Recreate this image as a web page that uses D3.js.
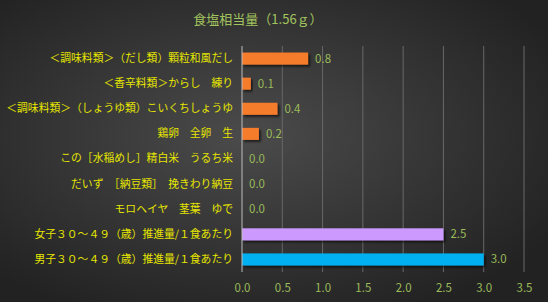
<!DOCTYPE html>
<html>
<head>
<meta charset="utf-8">
<script src="https://cdn.jsdelivr.net/npm/d3@7"></script>
<style>
  body { margin: 0; background: #2a2a2a; }
  svg { display: block; }
</style>
</head>
<body>
<svg></svg>
<script>
let categories = [
  '＜調味料類＞（だし類）顆粒和風だし',
  '＜香辛料類＞からし　練り',
  '＜調味料類＞（しょうゆ類）こいくちしょうゆ',
  '鶏卵　全卵　生',
  'この［水稲めし］精白米　うるち米',
  'だいず　［納豆類］　挽きわり納豆',
  'モロヘイヤ　茎葉　ゆで',
  '女子３０～４９（歳）推進量/１食あたり',
  '男子３０～４９（歳）推進量/１食あたり'
];
let values = [0.82, 0.11, 0.44, 0.21, 0, 0, 0, 2.5, 3.0];
let barColors = ['#f47b2c', '#f47b2c', '#f47b2c', '#f47b2c', '#f47b2c', '#f47b2c', '#f47b2c', '#cc99ff', '#00b0f0'];
let ticks = [0, 0.5, 1, 1.5, 2, 2.5, 3, 3.5];
let title = '食塩相当量（1.56ｇ）';

let width = 548;
let height = 302;
let font = '"Noto Sans CJK JP", "Noto Sans", sans-serif';

let svg = d3.select('svg')
    .attr('width', width)
    .attr('height', height);

let defs = svg.append('defs');
let bg = defs.append('radialGradient')
    .attr('id', 'bg')
    .attr('cx', '45%').attr('cy', '45%').attr('r', '65%');
bg.append('stop').attr('offset', '0%').attr('stop-color', '#4b4b4b');
bg.append('stop').attr('offset', '100%').attr('stop-color', '#222222');

let shadow = defs.append('filter').attr('id', 'shadow')
    .attr('x', '-10%').attr('y', '-30%').attr('width', '130%').attr('height', '180%');
shadow.append('feDropShadow')
    .attr('dx', 2).attr('dy', 2).attr('stdDeviation', 1.2)
    .attr('flood-color', '#000').attr('flood-opacity', 0.6);

svg.append('rect')
    .attr('width', width).attr('height', height)
    .attr('fill', 'url(#bg)');

let xScale = d3.scaleLinear()
               .domain([0, 3.5])
               .range([242, 524]);

let yScale = d3.scaleBand()
               .domain(categories)
               .range([46, 272])
               .paddingInner(0.52)
               .paddingOuter(0.26);

// grid
svg.append('g')
  .selectAll('line')
  .data(ticks.slice(1))
  .enter()
  .append('line')
    .attr('x1', d => xScale(d)).attr('x2', d => xScale(d))
    .attr('y1', 46).attr('y2', 272)
    .attr('stroke', '#686868')
    .attr('stroke-width', 1);

// bars
svg.append('g')
  .selectAll('rect')
  .data(values)
  .enter()
  .append('rect')
    .attr('x', xScale(0))
    .attr('y', (d, i) => yScale(categories[i]))
    .attr('width', d => xScale(d) - xScale(0))
    .attr('height', yScale.bandwidth())
    .attr('fill', (d, i) => barColors[i])
    .attr('filter', 'url(#shadow)');

// axis line
svg.append('line')
    .attr('x1', xScale(0)).attr('x2', xScale(0))
    .attr('y1', 46).attr('y2', 272)
    .attr('stroke', '#bdbdbd');

// value labels
svg.append('g')
  .selectAll('text')
  .data(values)
  .enter()
  .append('text')
    .attr('x', d => xScale(d) + 7)
    .attr('y', (d, i) => yScale(categories[i]) + yScale.bandwidth() / 2)
    .attr('dy', '0.35em')
    .attr('font-family', font)
    .attr('font-size', 11.5)
    .attr('fill', '#9bbb59')
    .text(d => d3.format('.1f')(d));

// category labels
let yAxis = d3.axisLeft(yScale).tickSize(0).tickPadding(9);
svg.append('g')
    .attr('transform', `translate(${xScale(0)},0)`)
    .call(yAxis)
    .call(g => g.select('.domain').remove())
    .selectAll('text')
    .attr('font-family', font)
    .attr('font-size', 10.8)
    .attr('fill', '#e6e600');

// x axis
let xAxis = d3.axisBottom(xScale).tickValues(ticks).tickSize(0).tickPadding(8)
    .tickFormat(d3.format('.1f'));
svg.append('g')
    .attr('transform', 'translate(0,276)')
    .call(xAxis)
    .call(g => g.select('.domain').remove())
    .selectAll('text')
    .attr('font-family', font)
    .attr('font-size', 11.5)
    .attr('fill', '#9bbb59');

// title
svg.append('text')
    .attr('x', 258)
    .attr('y', 24)
    .attr('text-anchor', 'middle')
    .attr('font-family', font)
    .attr('font-size', 13)
    .attr('fill', '#a2c45e')
    .text(title);
</script>
</body>
</html>
